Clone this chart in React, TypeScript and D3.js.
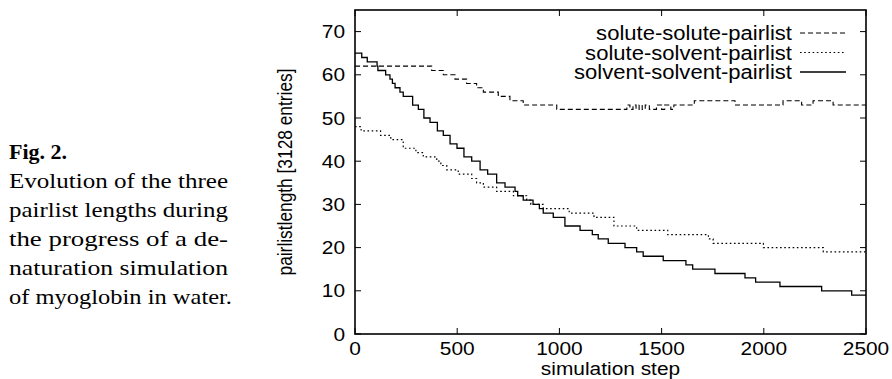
import * as d3 from "d3";

// step / value pairs, each value holds until the next step
const soluteSolute: [number, number][] = [
  [0, 62], [375, 61], [432, 60], [489, 59], [546, 58], [595, 57], [628, 56],
  [701, 55], [758, 54], [823, 53], [987, 52], [1330, 53], [1345, 52], [1360, 53],
  [1375, 52], [1390, 53], [1405, 52], [1420, 53], [1440, 52], [1475, 53],
  [1500, 52], [1515, 53], [1545, 52], [1560, 53], [1660, 54], [1859, 53],
  [2094, 54], [2185, 53], [2241, 54], [2339, 53],
];

const soluteSolvent: [number, number][] = [
  [0, 48], [30, 47], [125, 46], [175, 45], [236, 43], [298, 42], [334, 41],
  [400, 40], [420, 39], [449, 38], [505, 37], [571, 36], [595, 35], [628, 34],
  [693, 33], [775, 32], [840, 31], [860, 30], [921, 29], [1048, 28], [1169, 27],
  [1267, 25], [1378, 24], [1530, 23], [1729, 22], [1752, 21], [1998, 20], [2291, 19],
];

const solventSolvent: [number, number][] = [
  [0, 65], [33, 64], [60, 63], [108, 62], [112, 61], [150, 60], [171, 59],
  [183, 58], [196, 57], [220, 56], [236, 55], [282, 53], [310, 52], [337, 50],
  [367, 49], [403, 47], [432, 46], [465, 44], [499, 43], [533, 41], [571, 40],
  [612, 38], [649, 37], [693, 35], [734, 34], [783, 33], [796, 32], [823, 31],
  [871, 30], [902, 29], [921, 28], [970, 27], [1027, 25], [1101, 24], [1161, 23],
  [1190, 22], [1239, 21], [1321, 20], [1378, 19], [1410, 18], [1508, 17],
  [1619, 16], [1652, 15], [1761, 14], [1908, 13], [1960, 12], [2079, 11],
  [2283, 10], [2430, 9],
];

const seriesNames = ["solute-solute-pairlist", "solute-solvent-pairlist", "solvent-solvent-pairlist"];
const xTicks = [0, 500, 1000, 1500, 2000, 2500];
const yTicks = [0, 10, 20, 30, 40, 50, 60, 70];
const captionTitle = "Fig. 2.";
const captionLines = [
  "Evolution of the three",
  "pairlist lengths during",
  "the progress of a de-",
  "naturation simulation",
  "of myoglobin in water.",
];

const sans = "'Liberation Sans', Arial, sans-serif";
const serif = "'Liberation Serif', 'DejaVu Serif', serif";
const stretch = 1.13;

const Label = ({ x, y, anchor, size = 18.5, children }: any) => (
  <text
    transform={`translate(${x},${y}) scale(${stretch},1)`}
    textAnchor={anchor}
    fontFamily={sans}
    fontSize={size}
    fill="#000"
  >
    {children}
  </text>
);

export default function App() {
  const x = d3.scaleLinear().domain([0, 2500]).range([355, 866]);
  const y = d3.scaleLinear().domain([0, 75]).range([334, 10]);
  const line = d3
    .line<[number, number]>()
    .x((d) => x(d[0]))
    .y((d) => y(d[1]))
    .curve(d3.curveStepAfter);
  const extend = (pts: [number, number][]) => [...pts, [2500, pts[pts.length - 1][1]] as [number, number]];

  const styles = [
    { data: soluteSolute, dash: "5,3", width: 1.1 },
    { data: soluteSolvent, dash: "1.6,2.6", width: 1.2 },
    { data: solventSolvent, dash: "none", width: 1.3 },
  ];

  const [x0, x1] = x.range();
  const [y0, y1] = y.range();
  const tl = 6;

  return (
    <svg width={892} height={379} style={{ position: "absolute", left: 0, top: 0, background: "#fff" }}>
      {/* caption */}
      <text x={9} y={159} fontFamily={serif} fontSize={22} fontWeight="bold">
        {captionTitle}
      </text>
      {captionLines.map((t, i) => (
        <text
          key={t}
          x={9}
          y={188 + i * 29}
          fontFamily={serif}
          fontSize={22}
          textLength={i < 4 ? 219 : 223}
          lengthAdjust="spacingAndGlyphs"
        >
          {t}
        </text>
      ))}

      {/* ticks */}
      {yTicks.map((v) => (
        <g key={"y" + v}>
          <line x1={x0} x2={x0 + tl} y1={y(v)} y2={y(v)} stroke="#000" strokeWidth={1} />
          <line x1={x1} x2={x1 - tl} y1={y(v)} y2={y(v)} stroke="#000" strokeWidth={1} />
          <Label x={x0 - 10} y={y(v) + 6.5} anchor="end">{v}</Label>
        </g>
      ))}
      {xTicks.map((v) => (
        <g key={"x" + v}>
          <line x1={x(v)} x2={x(v)} y1={y0} y2={y0 - tl} stroke="#000" strokeWidth={1} />
          <line x1={x(v)} x2={x(v)} y1={y1} y2={y1 + tl} stroke="#000" strokeWidth={1} />
          <Label x={x(v)} y={y0 + 21} anchor="middle">{v}</Label>
        </g>
      ))}

      {/* axis titles */}
      <Label x={(x0 + x1) / 2} y={375} anchor="middle">simulation step</Label>
      <text
        transform={`translate(${292},${172}) rotate(-90) scale(1,${stretch})`}
        textAnchor="middle"
        fontFamily={sans}
        fontSize={17.5}
        textLength={207}
        lengthAdjust="spacingAndGlyphs"
      >
        pairlistlength [3128 entries]
      </text>

      {/* series */}
      {styles.map((s, i) => (
        <path
          key={i}
          d={line(extend(s.data)) ?? ""}
          fill="none"
          stroke="#000"
          strokeWidth={s.width}
          strokeDasharray={s.dash}
        />
      ))}

      {/* legend */}
      {styles.map((s, i) => (
        <g key={"l" + i}>
          <Label x={792} y={40 + i * 19.5} anchor="end" size={19.5}>{seriesNames[i]}</Label>
          <line
            x1={800}
            x2={846}
            y1={33 + i * 19.5}
            y2={33 + i * 19.5}
            stroke="#000"
            strokeWidth={s.width}
            strokeDasharray={s.dash}
          />
        </g>
      ))}

      {/* frame */}
      <rect x={x0} y={y1} width={x1 - x0} height={y0 - y1} fill="none" stroke="#000" strokeWidth={1.6} />
    </svg>
  );
}
